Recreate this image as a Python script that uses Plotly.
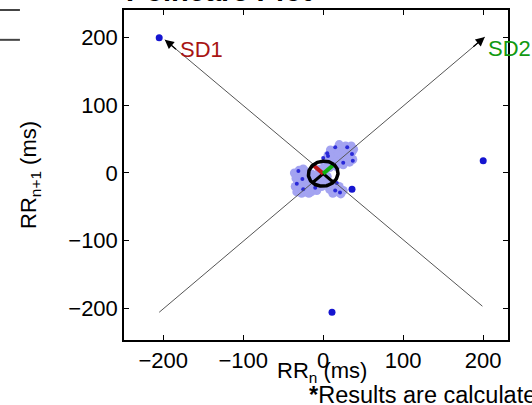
import numpy as np
import plotly.graph_objects as go

# ---------------- data ----------------
# dense cluster (light blue) around the centre
cluster_x = [4, 6, 8, 10, 12, 13, 15, 17, 18, 20, 22, 23, 24, 26, 28, 29, 30, 32, 34, 35, 36, 37, 38, 16, 25, 33, 9, 20, 27, 31,
             -36, -34, -32, -30, -28, -26, -24, -22, -20, -18, -16, -14, -12, -10, -8, -6, -4, -35, -33, -27, -15, -30, -22, -2, -18, -25,
             10, 14, 18, 22, 25, 12, 20, 8, 4,
             0, -5, 5, 8, -8, 2, -3]
cluster_y = [18, 26, 14, 22, 30, 17, 25, 34, 20, 28, 38, 15, 24, 32, 40, 21, 28, 36, 24, 40, 31, 20, 35, 10, 12, 16, 34, 42, 36, 20,
             0, -8, -16, -24, -4, -12, -20, -28, -6, -14, -22, -2, -10, -18, -26, -6, -14, -20, -28, -30, -28, 4, 2, -20, -30, 6,
             -16, -22, -28, -31, -26, -30, -20, -24, -12,
             0, 5, -5, 8, -8, 12, -12]

# individual beats (dark blue)
dots_x = [15, 30, 36, 37, 25, 5, 17, 15, 21, -31, -33, -26, -25, -10, 6, 0]
dots_y = [38, 38, 28, 18, 15, 29, -15, -26, -29, 3, -16, -9, -24, -22, 25, 22]

# larger isolated beats / outliers
outlier_x = [-205, 200, 11, 36]
outlier_y = [200, 18, -206, -24]

# SD axes (long diagonals)
sd2_axis_x = [-205, 202]
sd2_axis_y = [-206, 201]
sd1_axis_x = [199, -198]
sd1_axis_y = [-197, 197]

# ellipse parameters
center_x, center_y = 0, -1
SD1 = 18
SD2 = 19

x_ticks = [-200, -100, 0, 100, 200]
y_ticks = [-200, -100, 0, 100, 200]

FONT = "Liberation Sans, Arial, Helvetica, sans-serif"

fig = go.Figure()

fig.add_trace(go.Scatter(x=cluster_x, y=cluster_y, mode="markers",
                         marker=dict(size=9, color="#a3a3f1", line=dict(width=0)),
                         hoverinfo="skip"))
fig.add_trace(go.Scatter(x=dots_x, y=dots_y, mode="markers",
                         marker=dict(size=4, color="#2a2ad8", line=dict(width=0))))
fig.add_trace(go.Scatter(x=outlier_x, y=outlier_y, mode="markers",
                         marker=dict(size=7, color="#1515d0", line=dict(width=0))))

# diagonal axes
fig.add_trace(go.Scatter(x=sd2_axis_x, y=sd2_axis_y, mode="lines",
                         line=dict(color="#555555", width=1)))
fig.add_trace(go.Scatter(x=sd1_axis_x, y=sd1_axis_y, mode="lines",
                         line=dict(color="#555555", width=1)))

# ellipse
t = np.linspace(0, 2 * np.pi, 120)
u = np.array([1, 1]) / np.sqrt(2)
v = np.array([-1, 1]) / np.sqrt(2)
ex = center_x + SD2 * np.cos(t) * u[0] + SD1 * np.sin(t) * v[0]
ey = center_y + SD2 * np.cos(t) * u[1] + SD1 * np.sin(t) * v[1]

# black half-axes
fig.add_trace(go.Scatter(x=[center_x - SD2 * u[0], center_x], y=[center_y - SD2 * u[1], center_y],
                         mode="lines", line=dict(color="black", width=3)))
fig.add_trace(go.Scatter(x=[center_x, center_x - SD1 * v[0]], y=[center_y, center_y - SD1 * v[1]],
                         mode="lines", line=dict(color="black", width=3)))
# red SD1, green SD2
fig.add_trace(go.Scatter(x=[center_x, center_x + SD1 * v[0]], y=[center_y, center_y + SD1 * v[1]],
                         mode="lines", line=dict(color="#c01818", width=4)))
fig.add_trace(go.Scatter(x=[center_x, center_x + SD2 * u[0]], y=[center_y, center_y + SD2 * u[1]],
                         mode="lines", line=dict(color="#10b010", width=4)))
fig.add_trace(go.Scatter(x=ex, y=ey, mode="lines", line=dict(color="black", width=3.5)))

annotations = []
# arrowheads at the ends of the diagonals
for ax_x, ax_y in [(sd2_axis_x, sd2_axis_y), (sd1_axis_x, sd1_axis_y)]:
    tip_x, tip_y = ax_x[1], ax_y[1]
    tail_x = tip_x - 0.04 * (ax_x[1] - ax_x[0])
    tail_y = tip_y - 0.04 * (ax_y[1] - ax_y[0])
    annotations.append(dict(x=tip_x, y=tip_y, ax=tail_x, ay=tail_y, xref="x", yref="y",
                            axref="x", ayref="y", showarrow=True, arrowhead=2, arrowsize=1.4,
                            arrowwidth=1.3, arrowcolor="black", text=""))

annotations += [
    dict(text="SD1", x=-181, y=182, xref="x", yref="y", xanchor="left", yanchor="middle",
         showarrow=False, font=dict(family=FONT, size=22, color="#a81414")),
    dict(text="SD2", x=204, y=184, xref="x", yref="y", xanchor="left", yanchor="middle",
         showarrow=False, font=dict(family=FONT, size=22, color="#119a11")),
    dict(text="<b>Poincare Plot</b>", x=0.247, y=1.057, xref="paper", yref="paper",
         xanchor="center", yanchor="middle", showarrow=False,
         font=dict(family=FONT, size=29, color="black")),
    dict(text="RR<sub>n+1</sub> (ms)", x=-0.245, y=0.5, xref="paper", yref="paper",
         xanchor="center", yanchor="middle", textangle=-90, showarrow=False,
         font=dict(family=FONT, size=22, color="black")),
    dict(text="RR<sub>n</sub> (ms)", x=0.393, y=-0.096, xref="paper", yref="paper",
         xanchor="left", yanchor="middle", showarrow=False,
         font=dict(family=FONT, size=22, color="black")),
    dict(text="<b>*</b>Results are calculated", x=0.479, y=-0.166, xref="paper", yref="paper",
         xanchor="left", yanchor="middle", showarrow=False, borderpad=0,
         font=dict(family=FONT, size=23.5, color="black")),
]

shapes = [
    dict(type="line", xref="paper", yref="paper", x0=-0.323, x1=-0.271, y0=1.0, y1=1.0,
         line=dict(color="#444444", width=2)),
    dict(type="line", xref="paper", yref="paper", x0=-0.323, x1=-0.271, y0=0.9096, y1=0.9096,
         line=dict(color="#444444", width=2)),
]

axis_common = dict(showgrid=False, zeroline=False, showline=True, linecolor="black", linewidth=1.5,
                   mirror="ticks", ticks="inside", ticklen=5, tickcolor="black", tickwidth=1,
                   tickfont=dict(family=FONT, size=22, color="black"))

fig.update_layout(
    width=532, height=405,
    margin=dict(l=124, r=24, t=8, b=65),
    paper_bgcolor="white", plot_bgcolor="white",
    showlegend=False,
    xaxis=dict(range=[-249, 231], tickvals=x_ticks, **axis_common),
    yaxis=dict(range=[-247, 241], tickvals=y_ticks, **axis_common),
    annotations=annotations,
    shapes=shapes,
)

fig.write_html("out.html", config={"displayModeBar": False},
               post_script="document.body.style.margin='0';document.body.style.overflow='hidden';")
